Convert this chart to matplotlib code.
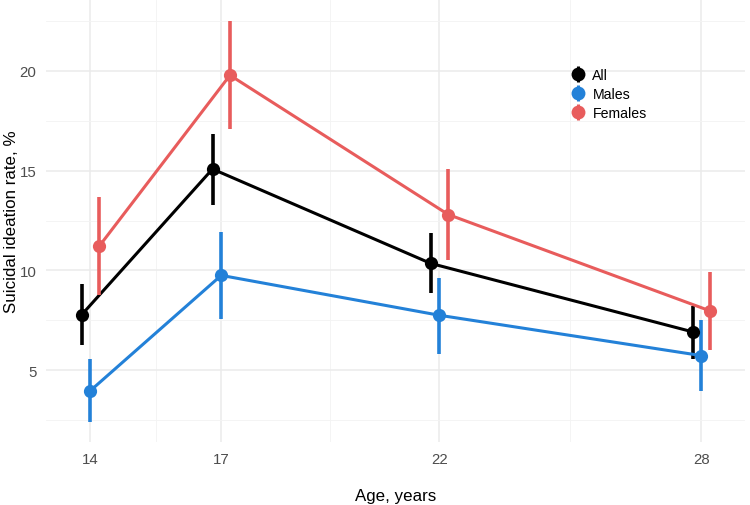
import matplotlib
matplotlib.use("Agg")
import matplotlib.pyplot as plt
from matplotlib.lines import Line2D
import numpy as np

plt.rcParams['font.family'] = ['Liberation Sans', 'DejaVu Sans']

ages = [14, 17, 22, 28]
groups = ["All", "Males", "Females"]
colors = {"All": "#000000", "Males": "#2381D8", "Females": "#E85C5C"}
dodge = {"All": -0.2, "Males": 0.0, "Females": 0.2}

all_mean = [7.77, 15.08, 10.35, 6.92]
all_lo = [6.25, 13.3, 8.85, 5.58]
all_hi = [9.3, 16.85, 11.85, 8.2]

males_mean = [3.97, 9.75, 7.75, 5.73]
males_lo = [2.38, 7.58, 5.8, 3.97]
males_hi = [5.55, 11.9, 9.63, 7.52]

females_mean = [11.2, 19.78, 12.8, 7.97]
females_lo = [8.75, 17.08, 10.5, 6.0]
females_hi = [13.68, 22.52, 15.08, 9.92]

data = {
    "All": (all_mean, all_lo, all_hi),
    "Males": (males_mean, males_lo, males_hi),
    "Females": (females_mean, females_lo, females_hi),
}

W, H = 750, 506
fig = plt.figure(figsize=(W / 100, H / 100), dpi=100)
left, right, top, bottom = 46, 745, 1, 443
ax = fig.add_axes([left / W, 1 - bottom / H, (right - left) / W, (bottom - top) / H])

for g in groups:
    m, lo, hi = data[g]
    x = np.array(ages) + dodge[g]
    c = colors[g]
    ax.plot(x, m, color=c, lw=2.2, zorder=3, solid_capstyle='butt')
    ax.vlines(x, lo, hi, color=c, lw=2.6, zorder=3)
    ax.plot(x, m, 'o', color=c, ms=9.5, zorder=4, markeredgewidth=0)

ax.set_xlim(12.985, 29.0)
ax.set_ylim(1.4, 23.55)
ax.set_xticks(ages)
ax.set_xticks([15.5, 19.5, 25], minor=True)
ax.set_yticks([5, 10, 15, 20])
ax.set_yticks([2.5, 7.5, 12.5, 17.5, 22.5], minor=True)
ax.grid(True, which='major', color='#EBEBEB', lw=1.1, zorder=0)
ax.grid(True, which='minor', color='#F3F3F3', lw=0.6, zorder=0)
ax.set_axisbelow(True)
for s in ax.spines.values():
    s.set_visible(False)
ax.tick_params(which='both', length=0, labelsize=10.8, labelcolor='#4D4D4D')
ax.tick_params(axis='y', pad=7)
ax.tick_params(axis='x', pad=7)

ax.set_xlabel("Age, years", fontsize=12.2, color='black', labelpad=16)
ax.set_ylabel("Suicidal ideation rate, %", fontsize=12.2, color='black')
ax.yaxis.set_label_coords((19 - left) / (right - left), 0.5)

handles = []
for g in groups:
    c = colors[g]
    pt = Line2D([], [], marker='o', color=c, ms=10, ls='none', markeredgewidth=0)
    vl = Line2D([], [], marker='|', color=c, ms=12, ls='none', markeredgewidth=2.2)
    handles.append((vl, pt))
leg = ax.legend(handles, groups, loc='upper left', bbox_to_anchor=(562 / W, 1 - 62 / H),
                bbox_transform=fig.transFigure, frameon=False, fontsize=10.2,
                handlelength=1.3, handletextpad=0.35, labelspacing=0.34, borderpad=0)

fig.savefig("out.png", dpi=100)
